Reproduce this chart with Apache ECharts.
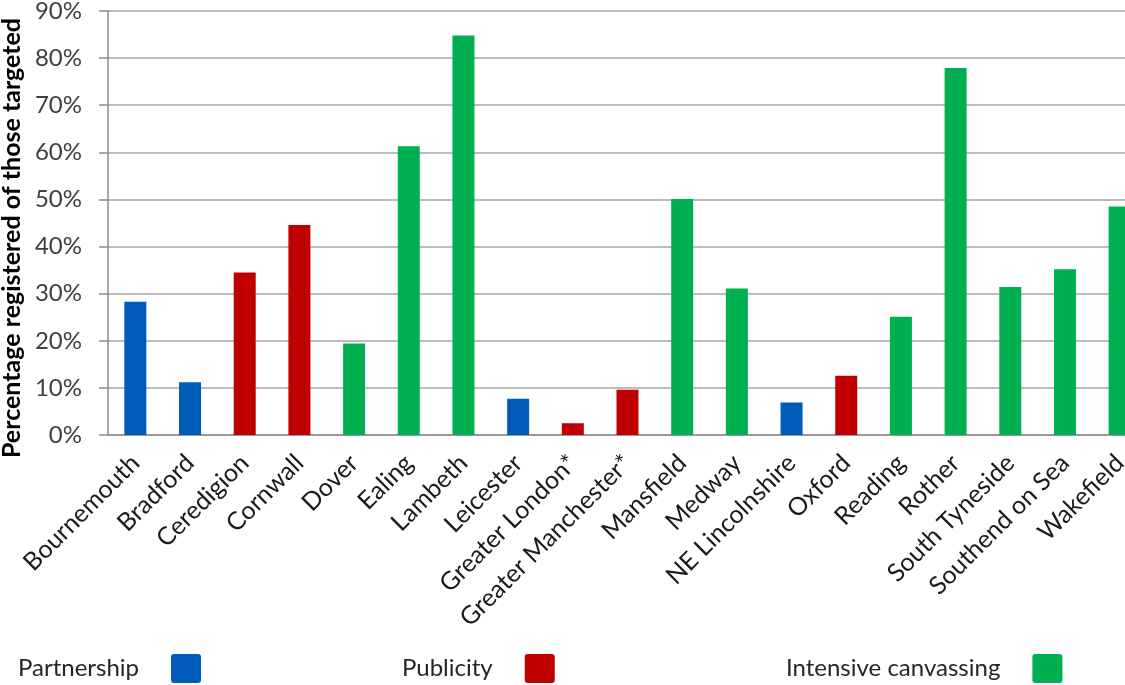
<!DOCTYPE html>
<html>
<head>
<meta charset="utf-8">
<script src="https://cdn.jsdelivr.net/npm/echarts@6/dist/echarts.min.js"></script>
<style>
    html,body{margin:0;padding:0;background:#fff;}
    #main{width:1125px;height:685px;}
</style>
</head>
<body>
<div id="main"></div>
<script>
//区域名
var areas = ['Bournemouth','Bradford','Ceredigion','Cornwall','Dover','Ealing','Lambeth','Leicester',
    'Greater London*','Greater Manchester*','Mansfield','Medway','NE Lincolnshire','Oxford','Reading',
    'Rother','South Tyneside','Southend on Sea','Wakefield'];
//百分比
var percents = [28.3, 11.2, 34.5, 44.6, 19.4, 61.3, 84.8, 7.7, 2.5, 9.6, 50.1, 31.1, 6.9, 12.6, 25.1, 77.9, 31.4, 35.2, 48.5];
//所属方式 0=Partnership 1=Publicity 2=Intensive canvassing
var methodOf = [0, 0, 1, 1, 2, 2, 2, 0, 1, 1, 2, 2, 0, 1, 2, 2, 2, 2, 2];
var methods = ['Partnership', 'Publicity', 'Intensive canvassing'];
var colors = ['#005bbb', '#c00000', '#00b050'];
var yTicks = [0, 10, 20, 30, 40, 50, 60, 70, 80, 90];

var font = 'Lato, "Liberation Sans", sans-serif';

//每种方式一条系列，其它位置留空
var series = [];
for (var m = 0; m < methods.length; m++) {
    var d = [];
    for (var i = 0; i < percents.length; i++) {
        d.push(methodOf[i] == m ? percents[i] : '-');
    }
    series.push({
        name: methods[m],
        type: 'bar',
        stack: 'all',
        barWidth: 22,
        itemStyle: {color: colors[m]},
        data: d
    });
}

//图例，文字在左色块在右
var legendLeft = [13, 397, 781];
var legends = [];
for (var k = 0; k < methods.length; k++) {
    legends.push({
        data: [methods[k]],
        left: legendLeft[k],
        top: 649,
        align: 'right',
        icon: 'path://M3,0 H27 Q30,0 30,3 V26 Q30,29 27,29 H3 Q0,29 0,26 V3 Q0,0 3,0 Z',
        itemWidth: 30,
        itemHeight: 29,
        selectedMode: false,
        textStyle: {
            fontFamily: font,
            fontSize: 24,
            color: '#262626',
            padding: [0, 27, 0, 0]
        }
    });
}

var myChart = echarts.init(document.getElementById('main'));
myChart.setOption({
    backgroundColor: '#fff',
    animation: false,
    legend: legends,
    grid: {
        left: 108,
        top: 11,
        width: 1039,
        height: 424,
        outerBoundsMode: 'none'
    },
    xAxis: {
        type: 'category',
        data: areas,
        axisTick: {show: false},
        axisLine: {lineStyle: {color: '#8c8c8c', width: 1.5}},
        axisLabel: {
            rotate: 45,
            interval: 0,
            margin: 24,
            fontFamily: font,
            fontSize: 25,
            color: '#1a1a1a'
        }
    },
    yAxis: {
        type: 'value',
        min: yTicks[0],
        max: yTicks[yTicks.length - 1],
        interval: 10,
        name: 'Percentage registered of those targeted',
        nameLocation: 'middle',
        nameGap: 84,
        nameTextStyle: {
            fontFamily: font,
            fontSize: 25,
            fontWeight: 'bold',
            color: '#000',
            //往下挪一点
            padding: [0, 30, 0, 0]
        },
        axisLine: {show: true, lineStyle: {color: '#8c8c8c', width: 1.5}},
        axisTick: {show: true, length: 9, lineStyle: {color: '#8c8c8c', width: 1.5}},
        axisLabel: {
            formatter: '{value}%',
            margin: 26,
            fontFamily: font,
            fontSize: 24,
            color: '#404040'
        },
        splitLine: {lineStyle: {color: '#a6a6a6', width: 1.5}}
    },
    series: series
});
</script>
</body>
</html>
